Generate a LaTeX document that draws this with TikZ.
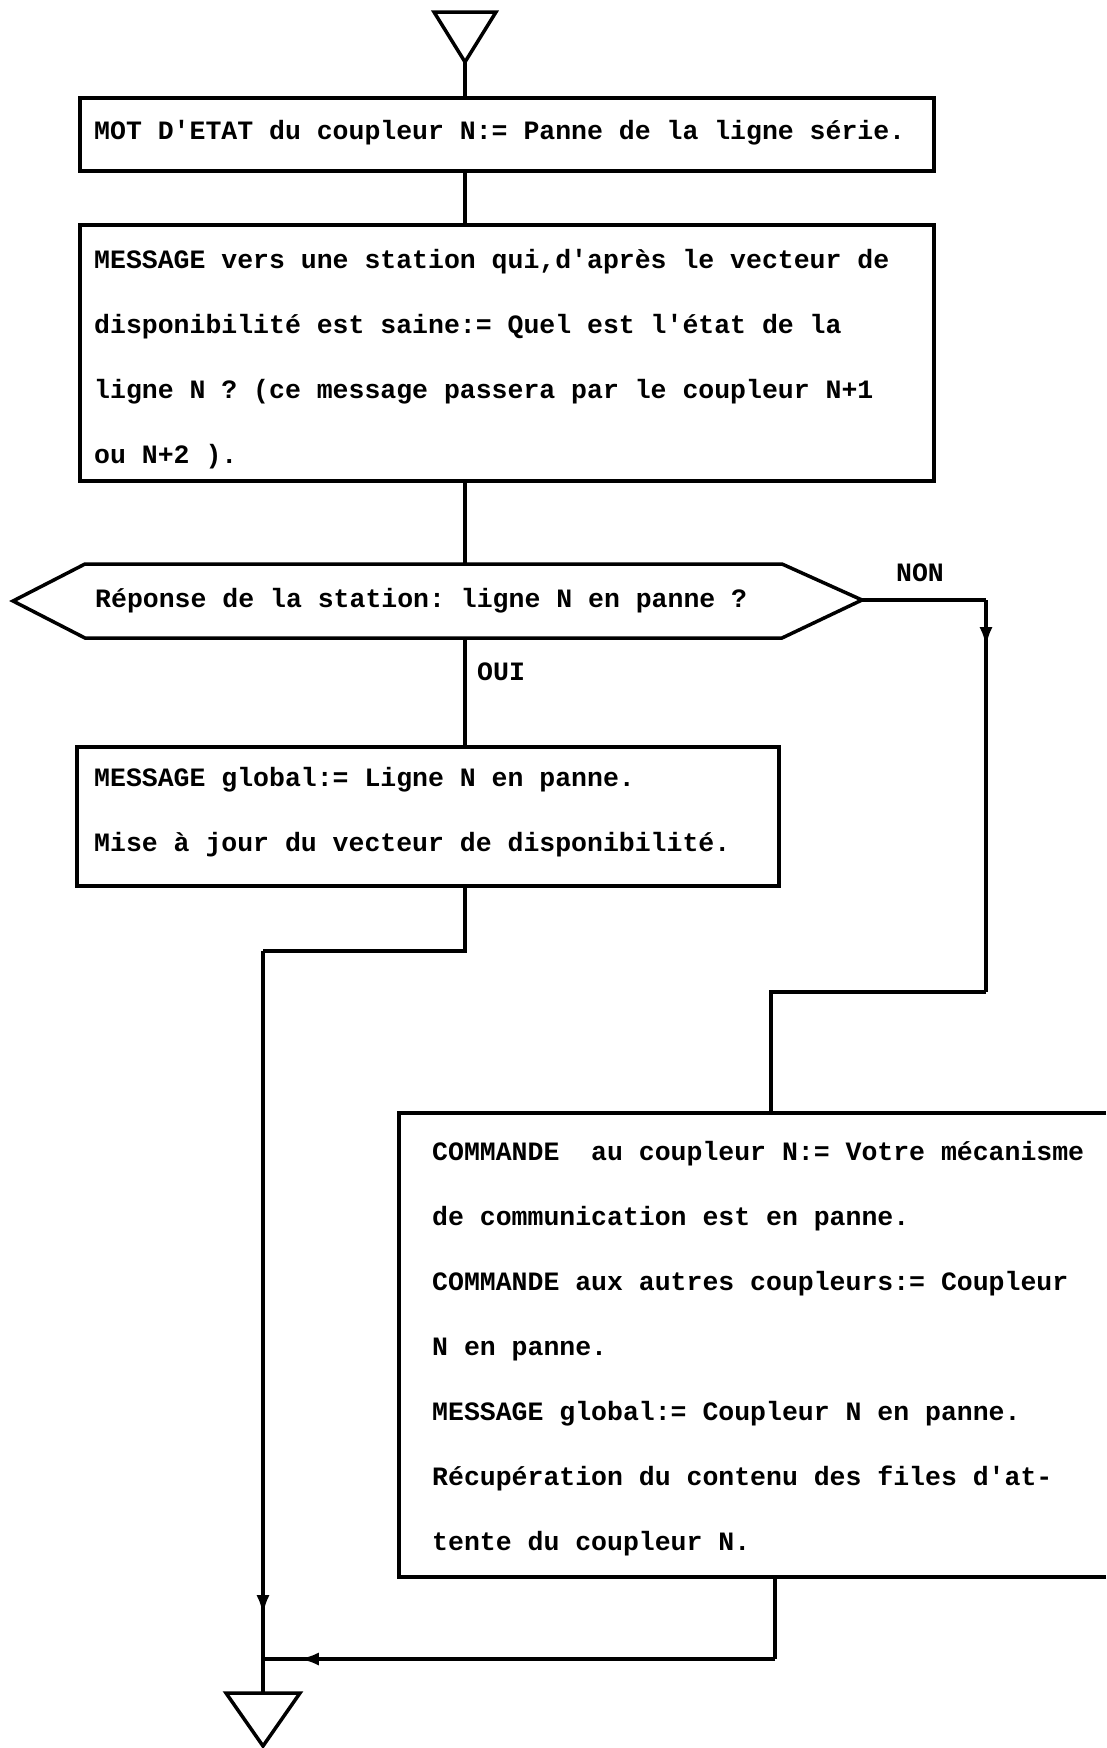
\documentclass[tikz,border=0pt]{standalone}
\usepackage{fontspec}
\setmonofont[WordSpace={1,0,0}]{Liberation Mono}
\usetikzlibrary{arrows.meta,decorations.markings}
\begin{document}
\begin{tikzpicture}[x=1pt,y=-1pt,
  txt/.style={font=\ttfamily\bfseries\fontsize{26.5}{65}\selectfont,inner sep=0pt,align=left},
  box/.style={draw,line width=3.5pt,rectangle,anchor=north west,inner sep=0pt},
  conn/.style={line width=4pt},
  shp/.style={line width=3.5pt,line join=miter},
  arrowat/.style={postaction={decorate},decoration={markings,mark=at position #1 with {\arrow{Latex[length=20pt,width=13pt]}}}},
]
\useasboundingbox (0,0) rectangle (1106,1748);
\coordinate (edge) at (1106,0);
\coordinate (xm) at (465,0);

% top terminal
\coordinate (tapex) at (465,62);
\draw[shp] (434,12) -- (496,12) -- (tapex) -- cycle;

% box 1
\node[box, minimum width=854pt, minimum height=73pt] (b1) at (78,96) {};
\node[txt, anchor=west] (b1t) at (94,133)
  {MOT D'ETAT du coupleur N:= Panne de la ligne série.};

% box 2
\node[box, minimum width=854pt, minimum height=256pt] (b2) at (78,223) {};
\node[txt, anchor=west] (b2t) at (94,359)
  {MESSAGE vers une station qui,d'après le vecteur de\\
   disponibilité est saine:= Quel est l'état de la\\
   ligne N ? (ce message passera par le coupleur N+1\\
   ou N+2 ).};

% decision
\coordinate (hL) at (13,601);
\coordinate (hTL) at (85,564);
\coordinate (hTR) at (782,564);
\coordinate (hR) at (862,600);
\coordinate (hBR) at (782,638);
\coordinate (hBL) at (85,638);
\coordinate (hT) at (465,564);
\coordinate (hB) at (465,638);
\draw[shp] (hL) -- (hTL) -- (hTR) -- (hR) -- (hBR) -- (hBL) -- cycle;
\node[txt, anchor=west] (q) at (95,601) {Réponse de la station: ligne N en panne ?};
\node[txt, anchor=west] (oui) at (477,672) {OUI};
\node[txt] (non) at (920,573) {NON};

% box global message
\node[box, minimum width=702pt, minimum height=139pt] (bm) at (75,745) {};
\node[txt, anchor=west] (bmt) at (94,812)
  {MESSAGE global:= Ligne N en panne.\\
   Mise à jour du vecteur de disponibilité.};

% box 3 (runs off the right edge)
\coordinate (b3nw) at (399,1113);
\coordinate (b3sw) at (399,1577);
\draw[shp] (b3nw -| edge) -- (b3nw) -- (b3sw) -- (b3sw -| edge);
\node[txt, anchor=west] (b3t) at (432,1349)
  {COMMANDE\ \ au coupleur N:= Votre mécanisme\\
   de communication est en panne.\\
   COMMANDE aux autres coupleurs:= Coupleur\\
   N en panne.\\
   MESSAGE global:= Coupleur N en panne.\\
   Récupération du contenu des files d'at-\\
   tente du coupleur N.};

% bottom terminal
\coordinate (btop) at (263,1693);
\draw[shp] (226,1693) -- (300,1693) -- (263,1746) -- cycle;

% connectors
\coordinate (j1) at (263,951);
\coordinate (j2) at (263,1659);
\coordinate (n1) at (986,600);
\coordinate (n2) at (986,992);
\coordinate (k1) at (771,992);
\coordinate (k2) at (775,1659);

\draw[conn] (tapex) -- (b1.north -| xm);
\draw[conn] (b1.south -| xm) -- (b2.north -| xm);
\draw[conn] (b2.south -| xm) -- (hT);
\draw[conn] (hB) -- (bm.north -| xm);
\draw[conn] (bm.south -| xm) |- (j1);
\draw[conn, arrowat=0.895] (j1) -- (btop);
\draw[conn] (hR) -- (n1);
\draw[conn, arrowat=0.12] (n1) -- (n2);
\draw[conn] (n2) -- (k1) -- (b3nw -| k1);
\draw[conn] (b3sw -| k2) -- (k2);
\draw[conn, arrowat=0.93] (k2) -- (j2);
\end{tikzpicture}
\end{document}
